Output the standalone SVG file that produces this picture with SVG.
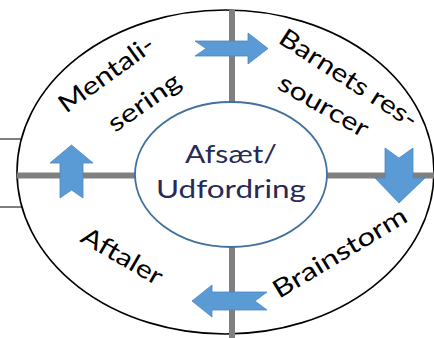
<svg xmlns="http://www.w3.org/2000/svg" width="434" height="338" viewBox="0 0 434 338">
<defs>
<style>
.lbl{font-family:Lato,"Open Sans","Liberation Sans",sans-serif;font-size:25px;fill:#000;}
.ctr{font-family:Lato,"Open Sans","Liberation Sans",sans-serif;font-size:25px;fill:#262a55;text-anchor:middle;}
.gray{stroke:#808080;stroke-width:6;fill:none;}
.arr{fill:#5b9bd5;stroke:#4a86c0;stroke-width:0.8;stroke-linejoin:miter;}
.thin{stroke:#000;stroke-width:1;fill:none;}
</style>
</defs>
<rect width="434" height="338" fill="#fff"/>
<g id="frame">
<line class="thin" x1="0" y1="139" x2="22" y2="139"/>
<line class="thin" x1="0" y1="207" x2="22" y2="207"/>
<ellipse cx="225.5" cy="172" rx="208.5" ry="162" fill="#fff" stroke="#000" stroke-width="1.6"/>
<line class="gray" x1="17" y1="175.5" x2="434" y2="175.5"/>
<line class="gray" x1="232" y1="10" x2="232" y2="338"/>
</g>
<g id="center">
<ellipse cx="231" cy="174.5" rx="96" ry="72.5" fill="#fff" stroke="#41719c" stroke-width="1.8"/>
<text class="ctr" x="231" y="163" textLength="92" lengthAdjust="spacingAndGlyphs">Afsæt/</text>
<text class="ctr" x="231" y="198" textLength="150" lengthAdjust="spacingAndGlyphs">Udfordring</text>
</g>
<g id="mentalisering">
<text class="lbl" transform="translate(66,114) rotate(-36)" textLength="112" lengthAdjust="spacingAndGlyphs">Mentali-</text>
<text class="lbl" transform="translate(115,133) rotate(-35)" textLength="83" lengthAdjust="spacingAndGlyphs">sering</text>
</g>
<g id="barnets-ressourcer">
<text class="lbl" transform="translate(277,42) rotate(33)" textLength="160" lengthAdjust="spacingAndGlyphs">Barnets res-</text>
<text class="lbl" transform="translate(276,88) rotate(30)" textLength="100" lengthAdjust="spacingAndGlyphs">sourcer</text>
</g>
<g id="brainstorm">
<text class="lbl" transform="translate(279,299) rotate(-31)" textLength="152" lengthAdjust="spacingAndGlyphs">Brainstorm</text>
</g>
<g id="aftaler">
<text class="lbl" transform="translate(79,241) rotate(30)" textLength="90" lengthAdjust="spacingAndGlyphs">Aftaler</text>
</g>
<g id="connectors">
<polygon class="arr" points="195,41 248,41 248,33 268,48.5 248,64 248,56 195,56 206,48.5"/>
<polygon class="arr" points="385,148 399,158 413,148 413,178 425,178 399,203 375,178 385,178"/>
<polygon class="arr" points="192,301 212,285 212,292 267,292 255,301 267,310 212,310 212,317"/>
<polygon class="arr" points="71.5,145 93,163 83,163 83,198 71.5,190 60,198 60,163 50,163"/>
</g>
</svg>
